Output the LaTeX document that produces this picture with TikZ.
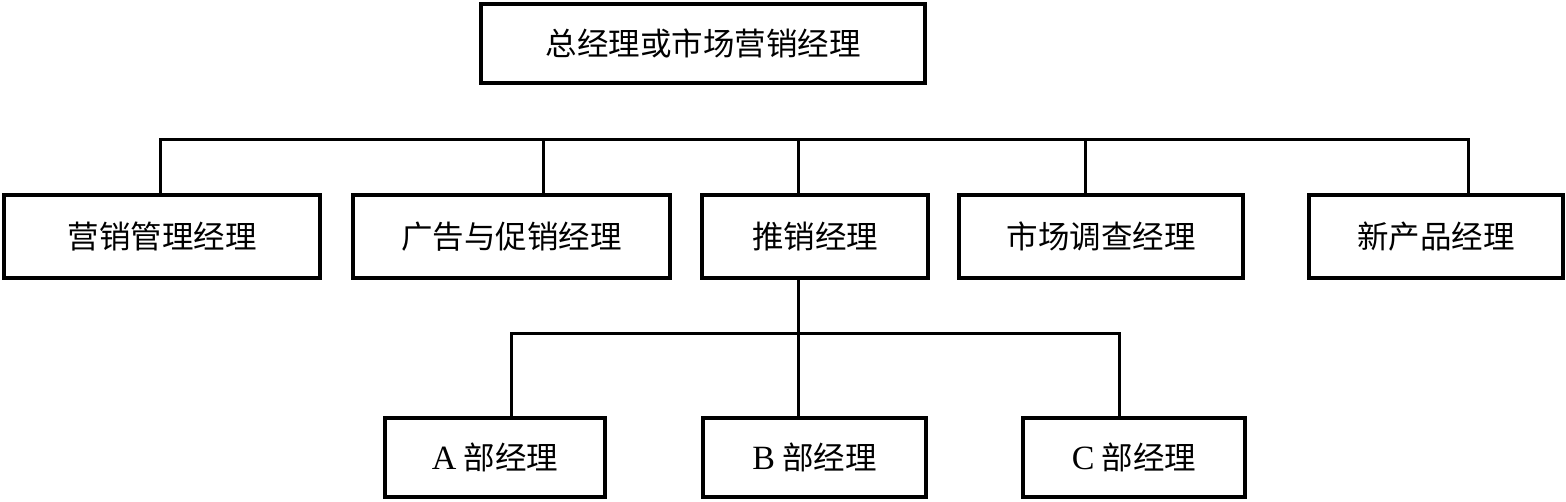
\documentclass[tikz,border=0pt]{standalone}
\usepackage{fontspec}
\setmainfont{Liberation Serif}
\newfontfamily\cjk{Noto Sans CJK SC}
\begin{document}
\begin{tikzpicture}[x=1pt,y=-1pt,
  box/.style={draw,line width=3.6pt,rectangle,inner sep=0pt,anchor=center,
    font=\fontsize{31.5}{31.5}\selectfont\cjk},
  link/.style={line width=3pt}]
\useasboundingbox (0,0) rectangle (1566,502);
% top
\node[box,minimum width=444pt,minimum height=79pt] (top) at (703,43.5) {总经理或市场营销经理};
% level 2
\node[box,minimum width=316pt,minimum height=83pt] (b1) at (162,236.5) {营销管理经理};
\node[box,minimum width=317pt,minimum height=83pt] (b2) at (511.5,236.5) {广告与促销经理};
\node[box,minimum width=226pt,minimum height=83pt] (b3) at (815,236.5) {推销经理};
\node[box,minimum width=284pt,minimum height=83pt] (b4) at (1101,236.5) {市场调查经理};
\node[box,minimum width=254pt,minimum height=83pt] (b5) at (1436,236.5) {新产品经理};
% level 3
\node[box,minimum width=220pt,minimum height=79pt] (bA) at (495,457.5) {{\rmfamily\fontsize{34}{34}\selectfont A} 部经理};
\node[box,minimum width=223pt,minimum height=79pt] (bB) at (814.5,457.5) {{\rmfamily\fontsize{34}{34}\selectfont B} 部经理};
\node[box,minimum width=222pt,minimum height=79pt] (bC) at (1134,457.5) {{\rmfamily\fontsize{34}{34}\selectfont C} 部经理};
% bus
\coordinate (s1) at (160,140);
\coordinate (s2) at (543,140);
\coordinate (s3) at (798,140);
\coordinate (s4) at (1085,140);
\coordinate (s5) at (1468,140);
\draw[link] (s1 |- b1.north) -- (s1) -- (s5) -- (s5 |- b5.north);
\draw[link] (s2) -- (s2 |- b2.north);
\draw[link] (s3) -- (s3 |- b3.north);
\draw[link] (s4) -- (s4 |- b4.north);
% lower bus
\coordinate (ja) at (511,334);
\coordinate (jb) at (798,334);
\coordinate (jc) at (1119,334);
\draw[link] (ja |- bA.north) -- (ja) -- (jc) -- (jc |- bC.north);
\draw[link] (jb |- b3.south) -- (jb |- bB.north);
\end{tikzpicture}
\end{document}
